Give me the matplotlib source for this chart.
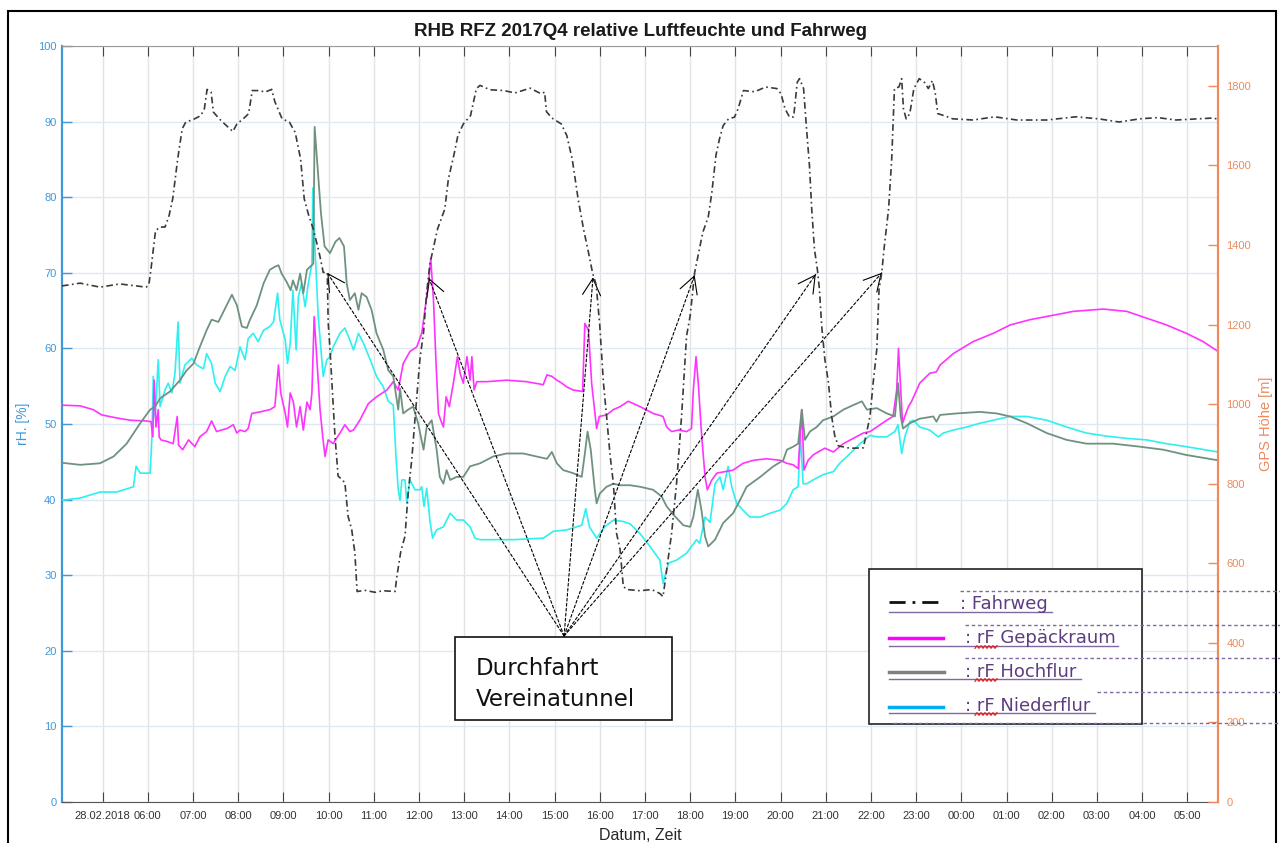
import numpy as np
import matplotlib
matplotlib.use('Agg')
import matplotlib.pyplot as plt
from matplotlib.patches import Rectangle
from matplotlib.lines import Line2D

# time axis: hours after 28.02.2018 00:00 (values above 24 belong to the next day)
fahr_h = [4.10, 4.50, 4.94, 5.38, 5.96, 6.02, 6.06, 6.17, 6.27, 6.38,
          6.47, 6.55, 6.66, 6.76, 6.84, 7.00, 7.17, 7.25, 7.31, 7.40,
          7.45, 7.58, 7.70, 7.88, 7.97, 8.11, 8.23, 8.31, 8.48, 8.59,
          8.74, 8.81, 8.97, 9.13, 9.26, 9.38, 9.46, 9.56, 9.66, 9.79,
          9.88, 9.97, 9.99, 10.03, 10.14, 10.21, 10.29, 10.36, 10.43, 10.51,
          10.58, 10.63, 10.80, 11.03, 11.20, 11.47, 11.51, 11.60, 11.69, 11.76,
          11.84, 11.91, 12.02, 12.10, 12.17, 12.24, 12.41, 12.57, 12.65, 12.77,
          12.86, 12.98, 13.14, 13.27, 13.35, 13.57, 13.88, 14.12, 14.46, 14.70,
          14.78, 14.82, 14.94, 15.15, 15.27, 15.39, 15.52, 15.64, 15.75, 15.84,
          15.92, 16.00, 16.08, 16.15, 16.23, 16.30, 16.37, 16.45, 16.52, 16.60,
          16.89, 17.15, 17.33, 17.40, 17.48, 17.59, 17.70, 17.81, 17.92, 18.00,
          18.10, 18.28, 18.40, 18.48, 18.57, 18.65, 18.73, 18.85, 18.98, 19.06,
          19.18, 19.43, 19.67, 19.92, 20.01, 20.10, 20.20, 20.29, 20.37, 20.42,
          20.51, 20.57, 20.64, 20.69, 20.75, 20.82, 20.86, 20.91, 20.98, 21.06,
          21.13, 21.20, 21.28, 21.54, 21.83, 21.89, 21.98, 22.05, 22.13, 22.18,
          22.24, 22.29, 22.39, 22.46, 22.52, 22.62, 22.68, 22.72, 22.78, 22.86,
          22.95, 23.07, 23.19, 23.27, 23.36, 23.42, 23.48, 23.62, 23.81, 24.26,
          24.74, 25.23, 25.89, 26.53, 27.04, 27.49, 27.95, 28.35, 28.75, 29.57,
          29.68]
fahr_m = [1297, 1304, 1294, 1302, 1294, 1299, 1331, 1436, 1445, 1445,
          1474, 1516, 1616, 1692, 1709, 1715, 1725, 1742, 1791, 1784,
          1734, 1717, 1704, 1685, 1704, 1717, 1730, 1788, 1788, 1784,
          1791, 1760, 1717, 1709, 1683, 1616, 1516, 1474, 1440, 1381,
          1331, 1331, 1205, 1138, 920, 819, 811, 802, 718, 685,
          627, 529, 532, 527, 531, 529, 567, 632, 668, 777,
          861, 962, 1113, 1180, 1281, 1352, 1440, 1490, 1566, 1625,
          1675, 1704, 1725, 1793, 1801, 1790, 1788, 1782, 1794, 1780,
          1784, 1735, 1719, 1704, 1675, 1616, 1516, 1440, 1381, 1330,
          1300, 1197, 1055, 970, 869, 802, 676, 634, 542, 534,
          531, 534, 524, 516, 584, 676, 802, 970, 1171, 1222,
          1331, 1432, 1470, 1532, 1625, 1667, 1700, 1717, 1721, 1742,
          1788, 1785, 1797, 1793, 1780, 1742, 1721, 1722, 1809, 1818,
          1793, 1700, 1599, 1490, 1390, 1334, 1289, 1197, 1113, 1054,
          970, 920, 895, 889, 890, 920, 970, 1054, 1138, 1289,
          1331, 1390, 1490, 1616, 1793, 1797, 1818, 1742, 1717, 1730,
          1793, 1818, 1808, 1793, 1813, 1784, 1730, 1725, 1717, 1714,
          1722, 1714, 1714, 1722, 1717, 1709, 1717, 1720, 1714, 1719,
          1716]

gep_h = [4.06, 4.50, 4.79, 4.98, 5.31, 5.61, 5.98, 6.07, 6.11, 6.14,
         6.18, 6.23, 6.25, 6.29, 6.42, 6.56, 6.65, 6.68, 6.77, 6.90,
         7.04, 7.15, 7.30, 7.41, 7.52, 7.63, 7.75, 7.89, 7.97, 8.04,
         8.15, 8.22, 8.30, 8.48, 8.70, 8.81, 8.89, 8.94, 9.04, 9.09,
         9.15, 9.22, 9.29, 9.37, 9.44, 9.52, 9.59, 9.63, 9.68, 9.74,
         9.81, 9.87, 9.92, 9.99, 10.10, 10.25, 10.36, 10.47, 10.55, 10.69,
         10.88, 11.06, 11.29, 11.43, 11.54, 11.65, 11.80, 11.95, 12.06, 12.13,
         12.21, 12.26, 12.32, 12.38, 12.43, 12.48, 12.54, 12.60, 12.67, 12.76,
         12.85, 12.91, 12.98, 13.06, 13.13, 13.17, 13.22, 13.28, 13.50, 13.94,
         14.38, 14.75, 14.83, 14.94, 15.05, 15.16, 15.27, 15.41, 15.62, 15.67,
         15.75, 15.82, 15.93, 15.99, 16.15, 16.30, 16.45, 16.63, 16.89, 17.18,
         17.40, 17.48, 17.59, 17.74, 17.92, 18.03, 18.07, 18.13, 18.18, 18.25,
         18.33, 18.38, 18.48, 18.59, 18.77, 18.95, 19.17, 19.40, 19.69, 19.99,
         20.14, 20.28, 20.39, 20.47, 20.52, 20.61, 20.72, 20.83, 20.98, 21.17,
         21.39, 21.61, 21.83, 21.98, 22.13, 22.35, 22.49, 22.57, 22.61, 22.66,
         22.70, 22.75, 22.83, 22.90, 23.08, 23.30, 23.45, 23.53, 23.82, 24.26,
         24.71, 25.08, 25.52, 25.96, 26.48, 27.14, 27.66, 28.10, 28.54, 28.98,
         29.35, 29.68]
gep_rh = [52.5, 52.4, 51.9, 51.2, 50.8, 50.5, 50.4, 50.3, 48.3, 55.8,
          49.6, 51.9, 48.3, 47.9, 47.7, 47.4, 51.0, 47.2, 46.6, 47.9,
          47.0, 48.3, 49.0, 50.4, 49.0, 49.2, 49.4, 49.9, 48.8, 49.2,
          49.0, 49.4, 51.4, 51.6, 51.9, 52.3, 57.8, 54.1, 51.4, 49.6,
          54.1, 52.9, 49.6, 52.3, 49.2, 52.9, 51.9, 54.1, 64.2, 58.5,
          51.9, 48.3, 45.7, 47.9, 47.4, 48.8, 49.9, 49.0, 49.2, 50.5,
          52.7, 53.6, 54.5, 55.6, 54.5, 58.0, 59.6, 60.2, 62.0, 65.1,
          68.6, 71.9, 66.4, 57.6, 51.4, 50.5, 49.6, 53.6, 52.3, 55.4,
          58.9, 56.7, 55.4, 58.9, 55.8, 58.9, 54.5, 55.6, 55.6, 55.8,
          55.6, 55.2, 56.5, 56.3, 55.8, 55.4, 54.9, 54.5, 54.3, 63.3,
          62.4, 55.4, 49.4, 51.0, 51.2, 51.9, 52.3, 53.0, 52.3, 51.4,
          51.0, 49.6, 49.0, 49.2, 49.0, 49.4, 54.5, 58.9, 55.4, 48.8,
          43.0, 41.3, 42.6, 43.5, 43.7, 43.9, 44.8, 45.2, 45.4, 45.2,
          44.8, 44.6, 44.1, 51.9, 43.9, 45.2, 45.9, 46.3, 46.8, 46.3,
          47.4, 48.1, 48.8, 49.0, 49.6, 50.5, 51.0, 54.5, 60.0, 54.5,
          50.1, 51.0, 52.3, 53.0, 55.4, 56.7, 56.9, 57.8, 59.3, 60.9,
          62.0, 63.1, 63.8, 64.3, 64.9, 65.2, 64.9, 64.0, 63.1, 62.0,
          60.9, 59.6]

hoch_h = [4.06, 4.50, 4.94, 5.24, 5.53, 5.83, 6.05, 6.16, 6.27, 6.49,
          6.71, 6.86, 7.01, 7.15, 7.30, 7.41, 7.56, 7.71, 7.86, 7.97,
          8.08, 8.19, 8.26, 8.41, 8.56, 8.70, 8.81, 8.89, 8.96, 9.07,
          9.16, 9.21, 9.29, 9.37, 9.44, 9.52, 9.59, 9.66, 9.69, 9.83,
          9.91, 10.03, 10.15, 10.24, 10.34, 10.40, 10.47, 10.58, 10.66, 10.73,
          10.84, 10.95, 11.06, 11.21, 11.32, 11.43, 11.54, 11.58, 11.65, 11.76,
          11.87, 11.98, 12.10, 12.17, 12.28, 12.39, 12.46, 12.54, 12.61, 12.69,
          12.83, 12.98, 13.13, 13.35, 13.64, 13.94, 14.31, 14.60, 14.83, 14.94,
          15.05, 15.19, 15.41, 15.60, 15.67, 15.73, 15.80, 15.89, 15.93, 16.00,
          16.15, 16.30, 16.45, 16.67, 16.89, 17.18, 17.37, 17.48, 17.63, 17.85,
          18.00, 18.07, 18.17, 18.25, 18.33, 18.40, 18.55, 18.73, 18.95, 19.10,
          19.25, 19.55, 19.84, 20.06, 20.14, 20.28, 20.39, 20.47, 20.54, 20.65,
          20.80, 20.94, 21.17, 21.39, 21.61, 21.80, 21.91, 22.13, 22.35, 22.53,
          22.60, 22.66, 22.71, 22.86, 23.08, 23.38, 23.45, 23.53, 23.90, 24.41,
          24.78, 25.08, 25.45, 25.89, 26.33, 26.77, 27.36, 27.95, 28.47, 28.98,
          29.68]
hoch_rh = [44.9, 44.6, 44.8, 45.7, 47.4, 50.1, 51.9, 52.3, 53.4, 54.3,
           55.8, 57.1, 58.0, 60.2, 62.4, 63.8, 63.5, 65.3, 67.1, 65.7,
           62.9, 62.7, 63.8, 65.7, 68.6, 70.4, 70.8, 71.0, 69.9, 68.8,
           67.7, 69.0, 67.7, 69.9, 67.3, 70.4, 70.8, 71.2, 89.3, 77.9,
           73.5, 72.6, 74.1, 74.6, 73.5, 68.6, 66.4, 67.3, 65.1, 67.3,
           66.8, 65.1, 62.0, 59.8, 57.1, 56.3, 51.9, 54.7, 51.4, 51.9,
           52.3, 50.1, 46.6, 49.6, 50.5, 46.6, 43.0, 42.1, 43.9, 42.6,
           43.0, 43.0, 44.4, 44.8, 45.7, 46.1, 46.1, 45.7, 45.4, 46.3,
           44.8, 43.9, 43.5, 43.0, 46.1, 49.0, 46.6, 41.3, 39.5, 40.8,
           41.7, 42.1, 41.9, 41.9, 41.7, 41.3, 40.4, 39.1, 38.0, 36.6,
           36.4, 37.7, 41.3, 38.6, 35.1, 33.8, 34.7, 36.9, 38.2, 39.9,
           41.7, 43.0, 44.4, 45.2, 46.6, 47.0, 47.4, 51.9, 47.9, 49.0,
           49.6, 50.5, 51.0, 51.9, 52.5, 53.0, 51.9, 52.1, 51.4, 51.0,
           55.4, 51.0, 49.4, 50.1, 50.7, 51.0, 50.3, 51.2, 51.4, 51.6,
           51.4, 51.0, 50.1, 48.8, 47.9, 47.4, 47.4, 47.0, 46.6, 45.9,
           45.2]

nied_h = [4.06, 4.50, 4.94, 5.31, 5.68, 5.74, 5.83, 6.05, 6.09, 6.12,
          6.16, 6.23, 6.27, 6.38, 6.45, 6.53, 6.60, 6.67, 6.71, 6.82,
          6.97, 7.08, 7.23, 7.30, 7.41, 7.49, 7.60, 7.71, 7.82, 7.93,
          8.04, 8.15, 8.22, 8.33, 8.44, 8.56, 8.70, 8.78, 8.87, 8.92,
          9.04, 9.09, 9.15, 9.21, 9.28, 9.33, 9.40, 9.48, 9.55, 9.63,
          9.65, 9.70, 9.77, 9.88, 9.96, 10.03, 10.10, 10.25, 10.36, 10.47,
          10.55, 10.66, 10.77, 10.92, 11.06, 11.21, 11.32, 11.43, 11.49, 11.54,
          11.58, 11.62, 11.69, 11.73, 11.80, 11.91, 12.02, 12.06, 12.11, 12.17,
          12.24, 12.30, 12.39, 12.54, 12.69, 12.83, 12.98, 13.13, 13.24, 13.35,
          14.09, 14.75, 14.97, 15.27, 15.49, 15.60, 15.69, 15.77, 15.93, 16.11,
          16.30, 16.52, 16.67, 16.89, 17.11, 17.33, 17.40, 17.52, 17.70, 17.92,
          18.14, 18.21, 18.33, 18.44, 18.55, 18.66, 18.73, 18.84, 18.92, 19.03,
          19.17, 19.32, 19.55, 19.77, 19.99, 20.14, 20.28, 20.39, 20.44, 20.50,
          20.58, 20.72, 20.94, 21.17, 21.31, 21.54, 21.76, 21.98, 22.13, 22.35,
          22.53, 22.60, 22.68, 22.75, 22.86, 22.94, 23.08, 23.30, 23.49, 23.60,
          23.82, 24.12, 24.41, 24.71, 25.08, 25.45, 25.89, 26.33, 26.77, 27.21,
          27.66, 28.10, 28.54, 28.98, 29.68]
nied_rh = [39.9, 40.2, 41.0, 41.0, 41.7, 44.4, 43.5, 43.5, 48.3, 56.3,
           51.0, 58.5, 52.3, 54.5, 55.4, 54.1, 56.7, 63.5, 55.4, 57.8,
           58.7, 57.8, 57.3, 59.3, 58.0, 55.4, 54.3, 56.3, 57.6, 57.1,
           60.2, 58.5, 61.3, 62.0, 60.9, 62.4, 62.9, 63.5, 67.3, 63.8,
           61.1, 58.0, 60.7, 67.7, 59.8, 66.8, 68.6, 65.5, 68.6, 71.2,
           81.2, 73.0, 64.2, 56.3, 58.5, 58.9, 60.2, 62.0, 62.7, 61.1,
           59.8, 62.0, 60.7, 58.5, 56.3, 54.9, 53.0, 52.5, 45.7, 41.3,
           39.9, 42.6, 42.6, 39.5, 42.6, 41.3, 41.3, 41.7, 39.1, 41.5,
           37.3, 34.9, 36.0, 36.4, 38.2, 37.3, 37.3, 36.4, 34.9, 34.7,
           34.7, 34.9, 35.8, 36.0, 36.4, 36.6, 38.8, 36.4, 34.9, 36.4,
           37.3, 37.1, 36.8, 35.5, 33.8, 32.0, 28.9, 31.6, 32.0, 32.9,
           34.7, 34.2, 37.7, 37.0, 42.1, 43.0, 41.3, 44.4, 41.7, 39.5,
           38.6, 37.7, 37.7, 38.2, 38.6, 39.5, 41.3, 41.7, 48.5, 42.1,
           42.1, 42.6, 43.3, 43.7, 44.8, 46.1, 47.4, 48.5, 48.3, 48.3,
           49.0, 49.9, 46.1, 48.3, 50.3, 50.5, 49.6, 49.2, 48.3, 48.8,
           49.2, 49.6, 50.1, 50.5, 51.0, 51.0, 50.5, 49.6, 48.8, 48.4,
           48.1, 47.9, 47.4, 47.0, 46.3]

tick_hours = list(range(5, 30))
tick_labels = [''] + ['%02d:00' % (h % 24) for h in range(6, 30)]

# arrows of the note "Durchfahrt Vereinatunnel": tips (time, rH) and common start
arrow_tip_h = [9.97, 12.22, 15.85, 18.10, 20.78, 22.24]
arrow_tip_rh = [70.0, 69.3, 69.4, 69.7, 69.8, 70.0]
arrow_start = (15.21, 21.96)

legend_labels = [': Fahrweg', ': rF Gepäckraum', ': rF Hochflur', ': rF Niederflur']

W, H = 1280, 843
BLUE = '#3f98d9'
ORANGE = '#ee8a5c'
TICKGRAY = '#333333'
PURPLE = '#5c3d80'
LINE_PURPLE = '#8068a0'


def fx(px):
    return px / W


def fy(py):
    return 1 - py / H


def fig_hline(fig, x0, x1, y, **kw):
    fig.add_artist(Line2D([fx(x0), fx(x1)], [fy(y), fy(y)],
                          transform=fig.transFigure, **kw))


def draw_legend(fig):
    fig.add_artist(Rectangle((fx(869), fy(724)), fx(1142) - fx(869), fy(569) - fy(724),
                             transform=fig.transFigure, fc='white', ec='#222222',
                             lw=1.2, zorder=5))
    sample_y = [602, 638, 672, 707]
    text_x = [960, 965, 965, 965]
    base_y = [609, 643, 677, 711]
    under_y = [612, 646, 679, 713]
    under_end = [1052, 1118, 1081, 1095]
    # samples
    fig_hline(fig, 889, 941, sample_y[0], color='#111111', lw=2,
              dashes=(5.8, 2.5, 1, 2.5), zorder=6)
    fig_hline(fig, 889, 943, sample_y[1], color='#ff00ff', lw=2.5, zorder=6)
    fig_hline(fig, 889, 944, sample_y[2], color='#808080', lw=2.5, zorder=6)
    fig_hline(fig, 889, 943, sample_y[3], color='#00aeef', lw=2.5, zorder=6)
    for i, lab in enumerate(legend_labels):
        fig.text(fx(text_x[i]), fy(base_y[i]), lab, fontsize=13, color=PURPLE,
                 family='DejaVu Sans', va='baseline', zorder=7)
        fig_hline(fig, 889, under_end[i], under_y[i], color=LINE_PURPLE, lw=1, zorder=6)
        if i > 0:
            xs = np.linspace(975, 997, 12)
            ys = under_y[i] + 1 + 1.3 * (-1) ** np.arange(12)
            fig.add_artist(Line2D(xs / W, 1 - ys / H, transform=fig.transFigure,
                                  color='#e02020', lw=0.9, zorder=7))
    # stray dashed lines of the pasted text frame
    for y, x0 in [(591, 960), (625, 965), (658, 965), (692, 1097), (723, 893)]:
        fig_hline(fig, x0, 1280, y, color=LINE_PURPLE, lw=1, dashes=(2.5, 2), zorder=7)


def draw_note(fig, ax):
    for h, r in zip(arrow_tip_h, arrow_tip_rh):
        ax.annotate('', xy=(h, r), xytext=arrow_start,
                    arrowprops=dict(arrowstyle='-', color='black', lw=0.8,
                                    linestyle=(0, (2.5, 2)), shrinkA=0, shrinkB=0))
        near = (h + 0.005 * (arrow_start[0] - h), r + 0.005 * (arrow_start[1] - r))
        ax.annotate('', xy=(h, r), xytext=near,
                    arrowprops=dict(arrowstyle='->,head_length=1.2,head_width=0.65',
                                    color='black', lw=0.8, shrinkA=0, shrinkB=0))
    fig.add_artist(Rectangle((fx(455), fy(720)), fx(672) - fx(455), fy(637) - fy(720),
                             transform=fig.transFigure, fc='white', ec='#111111',
                             lw=1.2, zorder=5))
    fig.text(fx(476), fy(675), 'Durchfahrt', fontsize=16.5, family='DejaVu Sans',
             va='baseline', color='#111111', zorder=6)
    fig.text(fx(476), fy(706), 'Vereinatunnel', fontsize=16.5, family='DejaVu Sans',
             va='baseline', color='#111111', zorder=6)


def main():
    plt.rcParams['font.family'] = ['Liberation Sans', 'DejaVu Sans']
    fig = plt.figure(figsize=(W / 100, H / 100), dpi=100)
    ax = fig.add_axes([fx(62), fy(802), fx(1218) - fx(62), fy(46) - fy(802)])
    ax2 = ax.twinx()

    ax.plot(nied_h, nied_rh, color='#2ef0f0', lw=1.2, zorder=3)
    ax.plot(gep_h, gep_rh, color='#ff33ff', lw=1.2, zorder=3)
    ax.plot(hoch_h, hoch_rh, color='#6f927f', lw=1.3, zorder=3)
    ax2.plot(fahr_h, fahr_m, color='#3a3a3a', lw=1.2, linestyle=(0, (4, 2, 1, 2)))

    ax.set_xlim(4.10, 29.68)
    ax.set_ylim(0, 100)
    ax2.set_ylim(0, 1900)
    ax.set_xticks(tick_hours)
    ax.set_xticklabels(tick_labels)
    ax.set_yticks(range(0, 101, 10))
    ax2.set_yticks(range(0, 1801, 200))

    ax.set_axisbelow(True)
    ax.grid(axis='y', color='#dde9f5', lw=1)
    ax.grid(axis='x', color='#e3e3e3', lw=1)

    ax.tick_params(axis='x', direction='in', length=7, width=0.8, color='#444444',
                   top=True, labelsize=8, labelcolor=TICKGRAY, pad=6.5)
    ax.tick_params(axis='y', direction='in', length=7, width=1, color=BLUE,
                   labelcolor=BLUE, labelsize=8, pad=4)
    ax2.tick_params(axis='y', direction='in', length=7, width=1, color=ORANGE,
                    labelcolor=ORANGE, labelsize=8, pad=6)

    ax.spines['left'].set_color(BLUE)
    ax.spines['left'].set_linewidth(1.6)
    ax.spines['right'].set_visible(False)
    ax.spines['bottom'].set_color('#555555')
    ax.spines['top'].set_color('#9a9a9a')
    ax2.spines['right'].set_color(ORANGE)
    ax2.spines['right'].set_linewidth(1.6)
    for side in ['left', 'top', 'bottom']:
        ax2.spines[side].set_visible(False)

    ax.annotate('28.02.2018', xy=(6, 0), xycoords=('data', 'axes fraction'),
                xytext=(-13, -6.5), textcoords='offset points', ha='right', va='top',
                fontsize=8, color=TICKGRAY)

    ax.set_title('RHB RFZ 2017Q4 relative Luftfeuchte und Fahrweg', fontsize=13.5,
                 fontweight='bold', color='#1a1a1a', pad=7)
    ax.set_xlabel('Datum, Zeit', fontsize=11.5, color='#262626', labelpad=5)
    ax.set_ylabel('rH. [%]', fontsize=10, color=BLUE, labelpad=6)
    ax2.set_ylabel('GPS Höhe [m]', fontsize=10.5, color=ORANGE, labelpad=6)

    draw_note(fig, ax)
    draw_legend(fig)

    fig.add_artist(Rectangle((fx(8), -0.01), fx(1276) - fx(8), fy(11) + 0.01,
                             transform=fig.transFigure, fill=False, ec='black', lw=1.5))

    fig.savefig('out.png', dpi=100)


if __name__ == "__main__":
    main()
